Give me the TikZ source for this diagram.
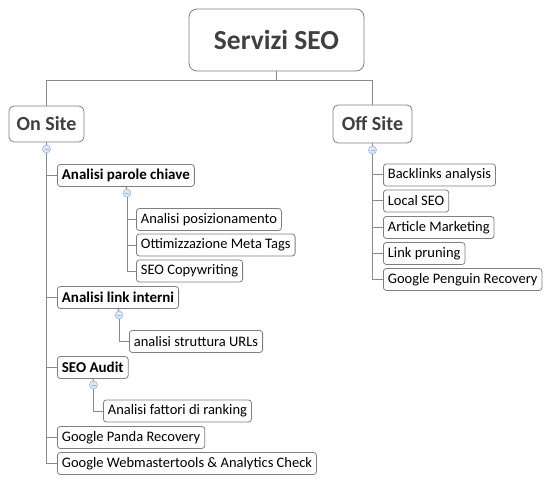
\documentclass[tikz,border=0pt]{standalone}
\usepackage{fontspec}
\setmainfont{Carlito}
\definecolor{boxgray}{HTML}{7F7F7F}
\definecolor{linegray}{HTML}{8A8A8A}
\definecolor{textgray}{HTML}{404040}
\definecolor{togdraw}{HTML}{9DB5E0}
\definecolor{togfill}{HTML}{DDE8F8}
\begin{document}
\begin{tikzpicture}[x=1pt,y=-1pt,
 box/.style={draw=boxgray, rounded corners=3pt, line width=0.8pt, fill=white, inner xsep=4.5pt, inner ysep=0pt, minimum height=22pt, anchor=west, font=\fontsize{14.5}{16}\selectfont, text=black},
 bbox/.style={box, font=\fontsize{15}{17}\selectfont\bfseries},
 lvl/.style={draw=boxgray, rounded corners=5pt, line width=0.8pt, fill=white, minimum height=36pt, inner sep=0pt, font=\fontsize{20}{22}\selectfont\bfseries, text=textgray},
 conn/.style={draw=linegray, line width=1pt},
 tog/.style={circle, draw=togdraw, fill=togfill, line width=0.6pt, minimum size=8pt, inner sep=0pt, path picture={\draw[togdraw, line width=0.6pt] ([xshift=-2pt]path picture bounding box.center) -- ([xshift=2pt]path picture bounding box.center);}}
]
\useasboundingbox (0,0) rectangle (554,481);

% main nodes
\node[lvl, minimum width=175pt, minimum height=62pt, rounded corners=8pt, font=\fontsize{27.5}{30}\selectfont\bfseries] (root) at (276.5,40) {Servizi SEO};
\node[lvl, minimum width=75pt] (on) at (46.5,124) {On Site};
\node[lvl, minimum width=79pt, minimum height=38pt] (off) at (372.5,124) {Off Site};
\coordinate (j) at (276.5,81);

% toggles
\node[tog] (t1) at (46.5,149) {};
\node[tog] (t2) at (372.5,150) {};

% on-site children
\node[bbox] (apc) at (57,175.5) {Analisi parole chiave};
\node[tog] (t3) at (127,193) {};
\node[box] (ap) at (136,219.5) {Analisi posizionamento};
\node[box] (omt) at (136,245) {Ottimizzazione Meta Tags};
\node[box] (sc) at (136,271) {SEO Copywriting};
\node[bbox] (ali) at (57,297.5) {Analisi link interni};
\node[tog] (t4) at (119,315) {};
\node[box] (asu) at (129,341.5) {analisi struttura URLs};
\node[bbox] (sa) at (57,367.5) {SEO Audit};
\node[tog] (t5) at (93.5,385) {};
\node[box] (afr) at (103,411) {Analisi fattori di ranking};
\node[box] (gpr) at (57,437.5) {Google Panda Recovery};
\node[box] (gwa) at (57,463.5) {Google Webmastertools \& Analytics Check};

% off-site children
\node[box] (ba) at (383,175) {Backlinks analysis};
\node[box] (ls) at (383,201) {Local SEO};
\node[box] (am) at (383,227.5) {Article Marketing};
\node[box] (lp) at (383,253.5) {Link pruning};
\node[box] (gpe) at (383,279.5) {Google Penguin Recovery};

% connectors
\draw[conn] (root.south) -- (j) -| (on.north);
\draw[conn] (j) -| (off.north);
\draw[conn] (on.south) -- (t1.north);
\draw[conn] (off.south) -- (t2.north);
\foreach \c in {apc,ali,sa,gpr,gwa} \draw[conn] (t1.south) |- (\c.west);
\foreach \c in {ba,ls,am,lp,gpe} \draw[conn] (t2.south) |- (\c.west);
\draw[conn] (apc.south) -- (t3.north);
\foreach \c in {ap,omt,sc} \draw[conn] (t3.south) |- (\c.west);
\draw[conn] (ali.south) -- (t4.north);
\draw[conn] (t4.south) |- (asu.west);
\draw[conn] (sa.south) -- (t5.north);
\draw[conn] (t5.south) |- (afr.west);
\end{tikzpicture}
\end{document}
